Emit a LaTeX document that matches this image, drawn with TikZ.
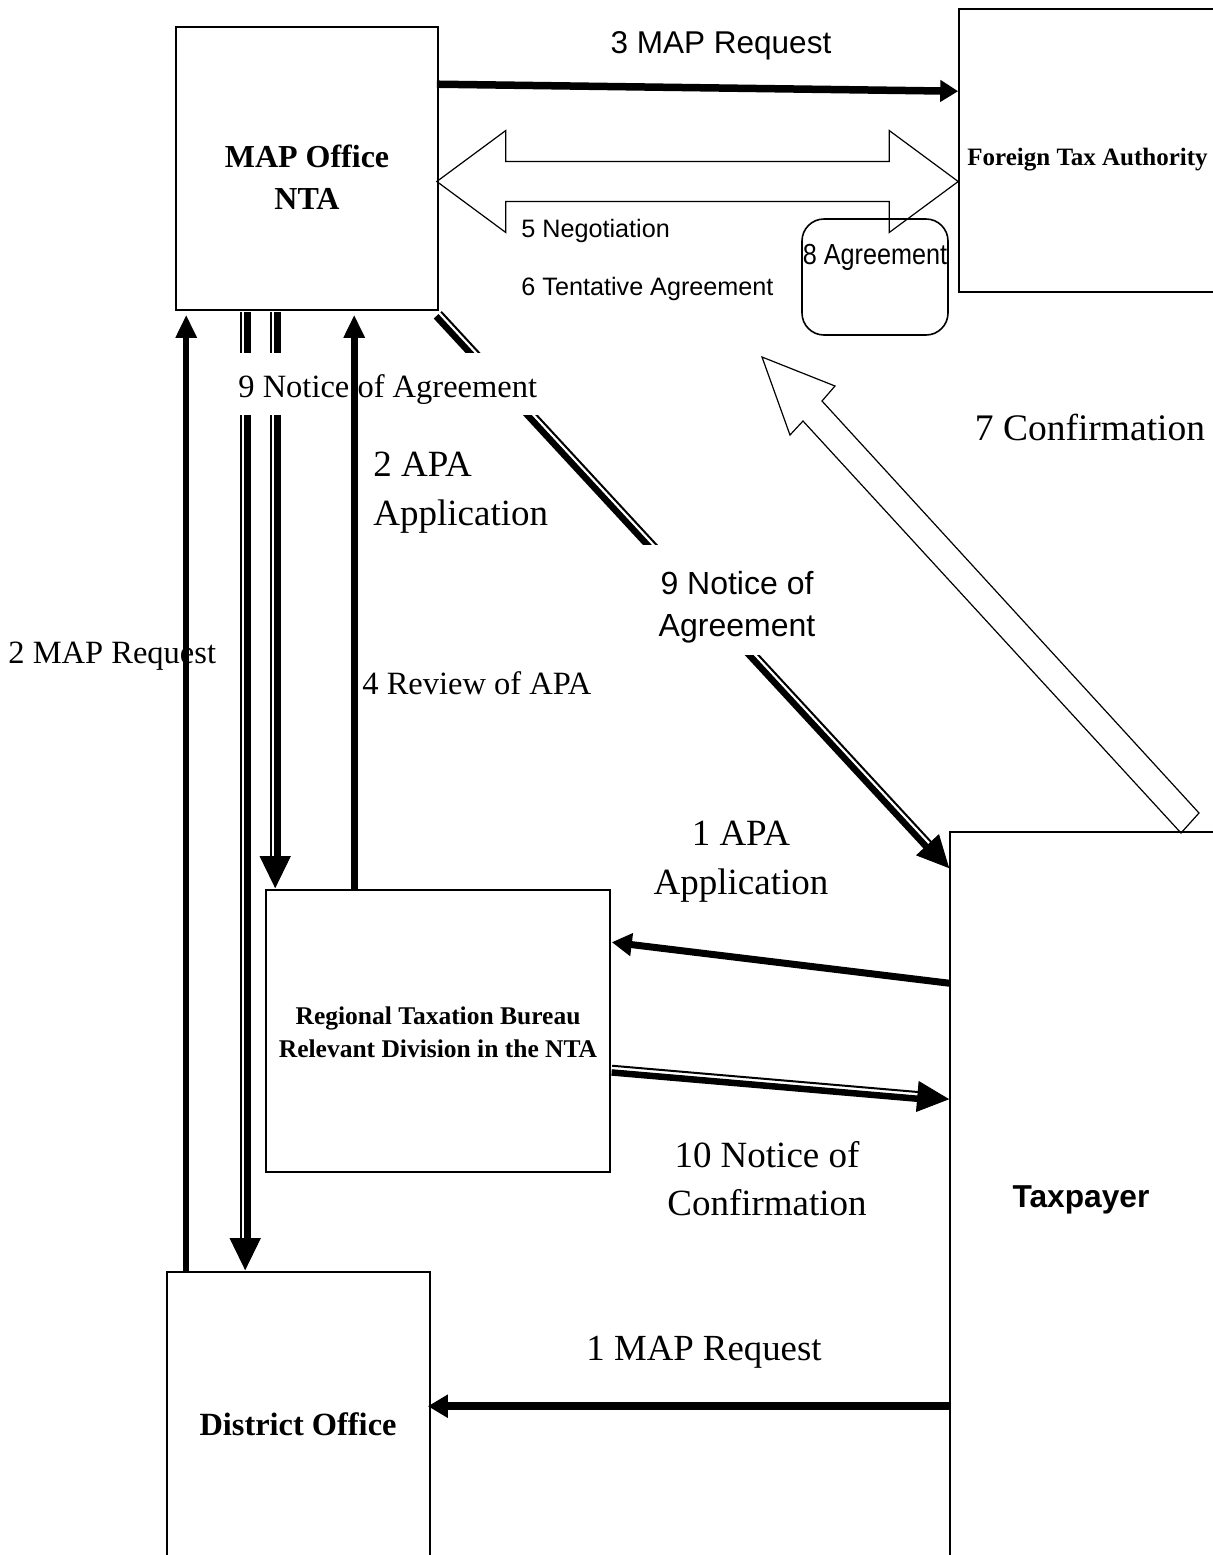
\documentclass[tikz,border=0pt]{standalone}
\usepackage{fontspec}
\usepackage{graphicx}
\setmainfont{Liberation Serif}
\newfontfamily\arialf{Liberation Sans}
\usetikzlibrary{arrows.meta,calc}
\newcommand{\fsz}[2]{\fontsize{#1pt}{#2pt}\selectfont}
% double connector: #1 start, #2 end, #3 offset of thin line, #4 offset of thick line
\newcommand{\dblarr}[4]{%
  \draw[thinln] ($(#1)!#3!90:(#2)$) -- ($(#2)!#3!-90:(#1)$);
  \draw[thickln] ($(#1)!#4!90:(#2)$) -- ($(#2)!#4!-90:(#1)$);
  \draw[headln] (#1) -- (#2);
}
\begin{document}
\begin{tikzpicture}[x=0.5pt,y=-0.5pt,
  box/.style={draw, line width=0.8pt, inner sep=0pt},
  txt/.style={inner sep=0pt},
  fat/.style={line width=3.5pt, -{Triangle[length=10pt,width=10.5pt]}},
  hollow/.style={draw, line width=0.6pt, line join=miter},
  thinln/.style={line width=1pt, shorten >=15pt},
  thickln/.style={line width=3.25pt, shorten >=15pt},
  headln/.style={line width=0.5pt, -{Triangle[length=16pt,width=15.5pt]}},
  mask/.style={fill=white, inner sep=0pt}]
\useasboundingbox (0,0) rectangle (1213,1555);

% boxes
\node[box, minimum width=131pt, minimum height=141.5pt] (map) at (307,168.5) {};
\node[box, minimum width=128.5pt, minimum height=141.5pt] (fta) at (1087.5,150.5) {};
\node[box, rounded corners=11pt, minimum width=73pt, minimum height=58pt] (agr) at (875,277) {};
\node[box, minimum width=172pt, minimum height=141pt] (reg) at (438,1031) {};
\node[box, minimum width=131.5pt, minimum height=146.5pt] (dist) at (298.5,1418.5) {};
\node[box, minimum width=133pt, minimum height=366.5pt] (tax) at (1083,1198.5) {};

% hollow double arrow (5 Negotiation)
\coordinate (hl) at ($(map.east)+(-2,13)$);
\coordinate (hr) at ($(fta.west)+(0,31)$);
\draw[hollow] (hl) -- ++(69,-51) -- ++(0,31) -- ($(hr)+(-69,-20)$) -- ++(0,-31) -- (hr)
  -- ++(-69,51) -- ++(0,-31) -- ($(hl)+(69,20)$) -- ++(0,31) -- cycle;

% hollow arrow (7 Confirmation)
\draw[hollow] (762,357) -- (835,386) -- (822,401) -- (1199,813) -- (1181,833) -- (803,421) -- (790,435) -- cycle;

% solid arrows
\draw[fat, line width=3.75pt, -{Triangle[length=9pt,width=10.5pt]}] ($(map.north east)+(-2,58)$) -- ($(fta.north west)+(0,83)$);
\draw[fat, line width=3.25pt, -{Triangle[length=11.5pt,width=10pt]}] ($(dist.north west)+(20,0)$) -- ($(map.south west)+(11,4)$);
\draw[fat, -{Triangle[length=10pt,width=11pt]}] ($(tax.north west)+(0,152)$) -- ($(reg.north east)+(1,53)$);
\draw[fat, line width=4pt, -{Triangle[length=10pt,width=11pt]}] ($(tax.north west)+(0,575)$) -- ($(dist.north east)+(-3,135)$);

% double arrows
\coordinate (d1s) at ($(map.south west)+(70,1)$);
\coordinate (d1e) at ($(dist.north west)+(79,-1)$);
\coordinate (d2s) at ($(map.south west)+(100,1)$);
\coordinate (d2e) at ($(reg.north west)+(10,-1)$);
\coordinate (d3s) at ($(map.south east)+(-1,4)$);
\coordinate (d3e) at ($(tax.north west)+(0,37)$);
\coordinate (d4s) at ($(reg.north east)+(1,181)$);
\coordinate (d4e) at ($(tax.north west)+(0,268)$);
\dblarr{d1s}{d1e}{-2.25pt}{1.125pt}
\dblarr{d2s}{d2e}{-2.25pt}{1.125pt}
\dblarr{d3s}{d3e}{2.25pt}{-1.125pt}
\dblarr{d4s}{d4e}{2.25pt}{-1.125pt}

% masks behind labels that interrupt lines
\node[mask, minimum width=156pt, minimum height=31pt] (m1) at (390,384) {};
\node[mask, minimum width=92pt, minimum height=55pt] (m2) at (730,600) {};

% box texts
\node[txt, font=\bfseries\fsz{16}{21}, align=center] (maptx) at (307,177.5) {MAP Office\\NTA};
\node[txt, font=\bfseries\fsz{12.5}{15}, anchor=base west] (ftatx) at (967,165) {Foreign Tax Authority};
\node[txt, font=\arialf\fsz{12.6}{15}, anchor=base] (agrtx) at (875,264) {\scalebox{1}[1.15]{8 Agreement}};
\node[txt, font=\bfseries\fsz{12.75}{16.5}, align=center] (regtx) at (438,1032) {Regional Taxation Bureau\\Relevant Division in the NTA};
\node[txt, font=\arialf\bfseries\fsz{15.85}{19}, anchor=base] (taxtx) at (1081,1207) {Taxpayer};
\node[txt, font=\bfseries\fsz{16.2}{19}, anchor=base] (disttx) at (298,1435) {District Office};

% connector labels
\node[txt, font=\arialf\fsz{15.75}{19}, anchor=base] (l3) at (721,53) {3 MAP Request};
\node[txt, font=\arialf\fsz{12.6}{15}, anchor=base west] (l5) at (521,237) {5 Negotiation};
\node[txt, font=\arialf\fsz{12.6}{15}, anchor=base west] (l6) at (521,295) {6 Tentative Agreement};
\node[txt, font=\fsz{18.75}{22}, anchor=base] (l7) at (1090,440) {7 Confirmation};
\node[txt, font=\fsz{16.25}{19}, anchor=base west] (l9a) at (238,397) {9 Notice of Agreement};
\node[txt, font=\fsz{18.5}{24.5}, align=left, anchor=west] (l2apa) at (373,493) {2 APA\\Application};
\node[txt, font=\arialf\fsz{16}{21}, align=center] (l9b) at (737,607) {9 Notice of\\Agreement};
\node[txt, font=\fsz{16.25}{19}, anchor=base west] (l2map) at (8,663) {2 MAP Request};
\node[txt, font=\fsz{16.25}{19}, anchor=base west] (l4) at (362,694) {4 Review of APA};
\node[txt, font=\fsz{18.5}{24.5}, align=center] (l1apa) at (741,862) {1 APA\\Application};
\node[txt, font=\fsz{18.5}{24}, align=center] (l10) at (767,1178.5) {10 Notice of\\Confirmation};
\node[txt, font=\fsz{18.4}{22}, anchor=base] (l1map) at (704,1360) {1 MAP Request};

% 4 Review of APA arrow drawn over the label
\draw[fat, line width=3.3pt, -{Triangle[length=11.5pt,width=10pt]}] ($(reg.north west)+(89,0)$) -- ($(map.south west)+(179,4)$);
\end{tikzpicture}
\end{document}
